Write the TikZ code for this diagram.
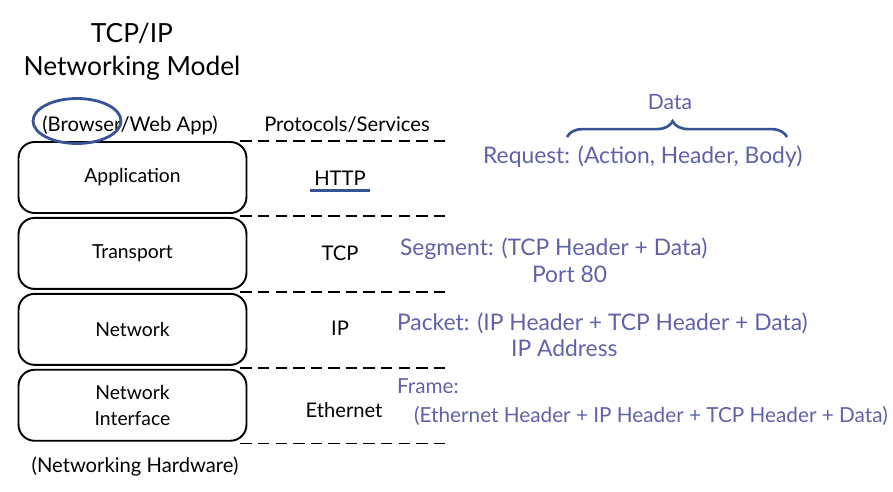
\documentclass[tikz,border=0pt]{standalone}
\usepackage{fontspec}
\setmainfont{Lato}
\usepackage{xcolor}
\usepackage{tikz}
\usetikzlibrary{positioning,decorations.pathreplacing,calc}
\definecolor{chalk}{RGB}{95,98,168}
\definecolor{pen}{RGB}{55,85,150}

\begin{document}
\begin{tikzpicture}[x=0.02cm,y=-0.02cm,
    every node/.style={inner sep=1pt},
    layer/.style={draw,line width=1.1pt,rounded corners=0.32cm,minimum width=4.56cm,
      minimum height=1.42cm,align=center,font=\fontsize{11}{14.5}\selectfont},
    proto/.style={font=\fontsize{11.5}{14}\selectfont},
    note/.style={text=chalk,font=\fontsize{13}{15}\selectfont,anchor=west},
    small note/.style={note,font=\fontsize{11.8}{14}\selectfont},
    sep/.style={line width=0.8pt,dash pattern=on 6.5pt off 3.5pt}]
    \useasboundingbox (0,0) rectangle (893,491);
    % left column: the stack
    \node[align=center,font=\fontsize{15}{19}\selectfont] (title) at (132,52) {TCP/IP\\Networking Model};
    \node[proto] (browser) at (130,125) {(Browser/Web App)};
    \node[proto] (services) at (347,125) {Protocols/Services};
    \node[layer] (app) at (132.5,177.5) {Application};
    \node[layer,below=0.06cm of app] (trans) {Transport};
    \node[layer,below=0.06cm of trans] (net) {Network};
    \node[layer,below=0.06cm of net] (netif) {Network\\Interface};
    \node[proto] (hardware) at (135,466) {(Networking Hardware)};
    \draw[pen,line width=1.6pt] (77,121) ellipse [x radius=0.88cm,y radius=0.45cm];
    % separators
    \draw[sep] ($(app.north east)+(-7,0)$) -- ++(207,0);
    \foreach \n in {app,trans,net,netif}
      \draw[sep] ($(\n.south east)+(-7,2)$) -- ++(207,0);
    % protocols
    \node[proto] (http) at (340,178) {HTTP};
    \node[proto] (tcp) at (340,253) {TCP};
    \node[proto] (ip) at (340,328) {IP};
    \node[proto] (eth) at (344,410) {Ethernet};
    \draw[pen,line width=1.8pt] ($(http.south west)+(-2,3)$) -- ($(http.south east)+(2,3)$);
    % data units
    \node[text=chalk,font=\fontsize{12}{14}\selectfont] (data) at (670,102) {Data};
    \draw[pen,line width=1.5pt,decorate,decoration={brace,amplitude=9pt,aspect=0.48}]
      (567,137) -- (787,137);
    \node[note] (request) at (481,157) {Request: (Action, Header, Body)};
    \node[note] (segment) at (398,249) {Segment: (TCP Header + Data)};
    \node[note] (port) at (530,274) {Port 80};
    \node[note] (packet) at (395,323) {Packet: (IP Header + TCP Header + Data)};
    \node[note] (ipaddr) at (509,348) {IP Address};
    \node[small note] (frame) at (395,386) {Frame:};
    \node[small note] (framebody) at (412,416) {(Ethernet Header + IP Header + TCP Header + Data)};
\end{tikzpicture}
\end{document}
